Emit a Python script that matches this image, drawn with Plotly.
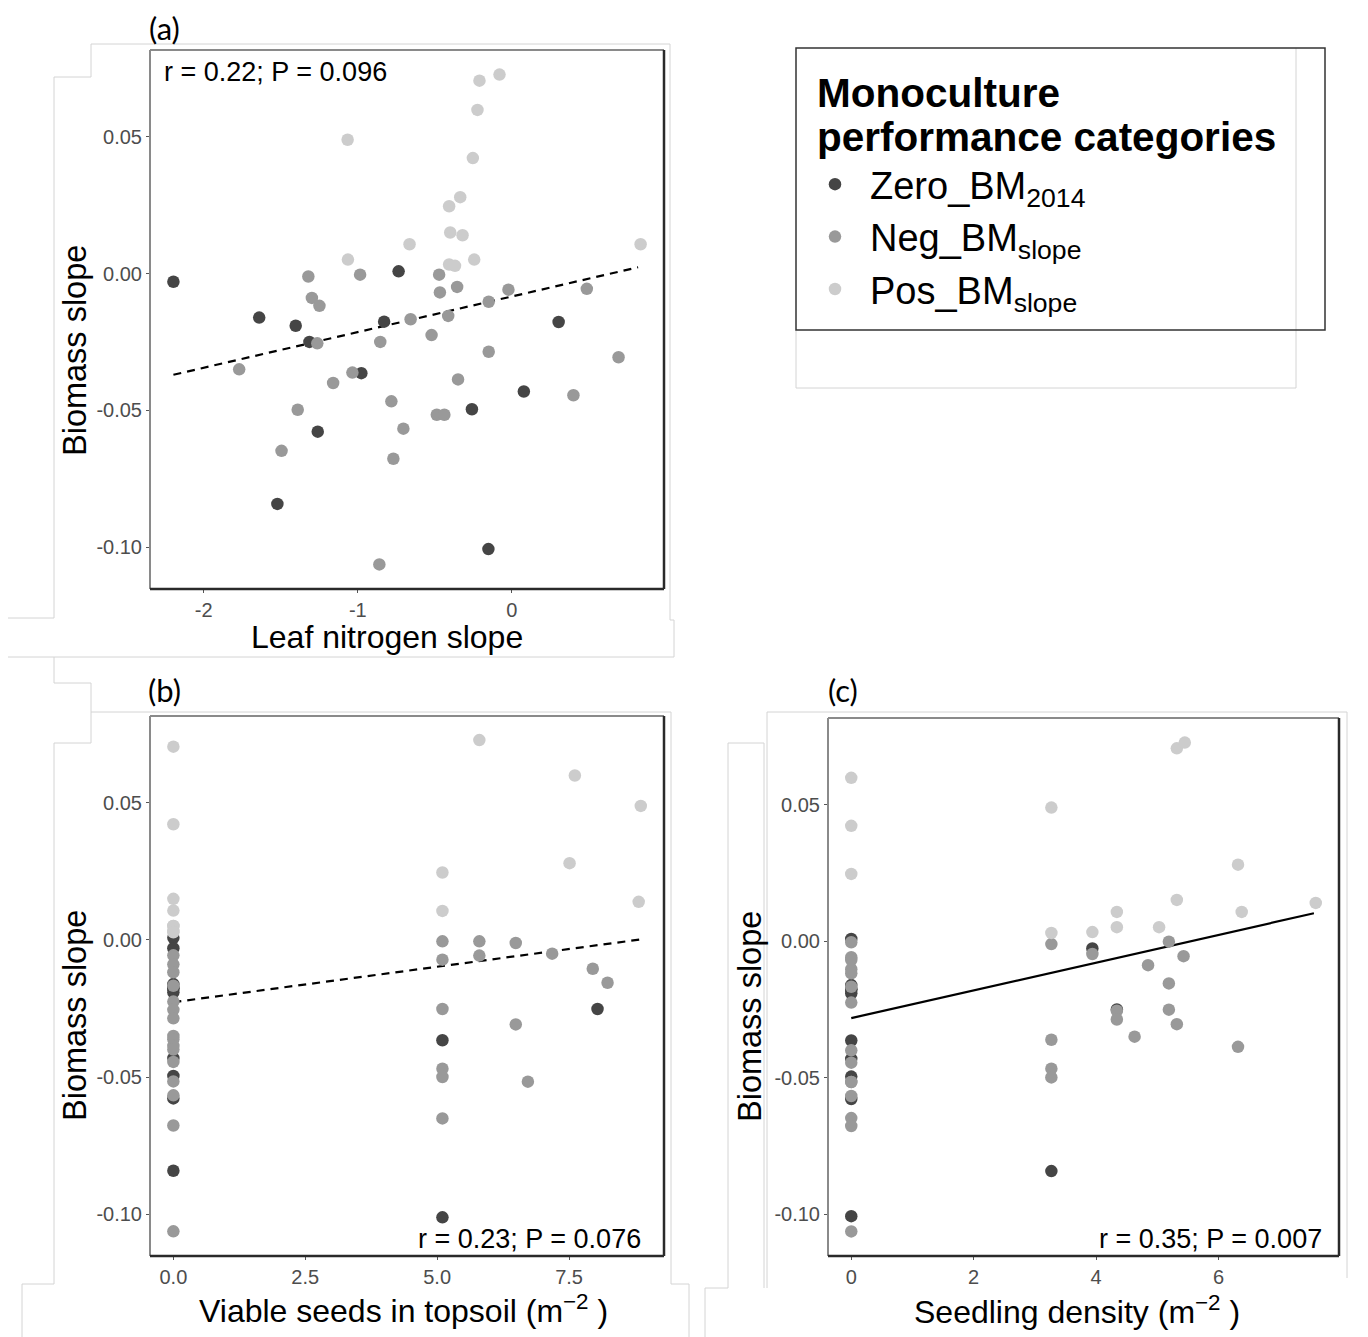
import plotly.graph_objects as go

W, H = 1368, 1337
OFF = 8  # default page margin of the browser body
FW, FH = W - OFF, H - OFF

# ---------------- data ----------------
categories = ["Zero_BM<sub>2014</sub>", "Neg_BM<sub>slope</sub>", "Pos_BM<sub>slope</sub>"]
cat_colors = ["#454545", "#999999", "#cccccc"]

# panel (a): leaf nitrogen slope vs biomass slope
a_zero_x = [-2.197, -0.735, -1.640, -1.403, -0.829, 0.304, -1.314, -0.977, 0.078, -0.259, -1.260, -1.522, -0.152]
a_zero_y = [-0.0030, 0.0008, -0.0161, -0.0191, -0.0176, -0.0177, -0.0250, -0.0364, -0.0431, -0.0496, -0.0578, -0.0842, -0.1007]
a_neg_x = [-1.321, -0.985, -0.472, -1.298, -1.249, -0.467, -0.355, -0.022, 0.487, -0.150, -0.657, -0.413, -0.521,
           -1.263, -0.854, -0.150, -1.770, -1.035, -1.160, -0.349, 0.693, 0.400, -0.782, -1.390, -0.487, -0.438,
           -0.704, -1.495, -0.769, -0.860]
a_neg_y = [-0.0011, -0.0004, -0.0004, -0.0089, -0.0118, -0.0069, -0.0049, -0.0059, -0.0056, -0.0103, -0.0167, -0.0155,
           -0.0225, -0.0255, -0.0250, -0.0286, -0.0350, -0.0362, -0.0400, -0.0387, -0.0306, -0.0445, -0.0467, -0.0498,
           -0.0516, -0.0516, -0.0567, -0.0648, -0.0677, -0.1063]
a_pos_x = [-0.210, -0.080, -0.223, -1.066, -0.253, -0.335, -0.407, -0.400, -0.320, 0.836, -0.664, -1.064, -0.244, -0.407, -0.369]
a_pos_y = [0.0705, 0.0727, 0.0598, 0.0489, 0.0422, 0.0279, 0.0246, 0.0150, 0.0140, 0.0107, 0.0107, 0.0051, 0.0051, 0.0033, 0.0028]
a_fit_x = [-2.197, 0.820]
a_fit_y = [-0.0370, 0.0023]

# panel (b): viable seeds in topsoil vs biomass slope
b_zero_x = [0, 0, 0, 0, 0, 0, 0, 0, 0, 0, 5.1, 8.04, 5.1]
b_zero_y = [0.0008, -0.0030, -0.0161, -0.0176, -0.0177, -0.0191, -0.0431, -0.0496, -0.0578, -0.0842, -0.0366, -0.0252, -0.1012]
b_neg_x = [0] * 16 + [5.1, 5.8, 6.49, 5.1, 5.8, 7.18, 7.95, 8.23, 5.1, 6.49, 5.1, 5.1, 6.72, 5.1]
b_neg_y = [-0.0056, -0.0089, -0.0118, -0.0167, -0.0225, -0.0255, -0.0286, -0.0350, -0.0362, -0.0387, -0.0400, -0.0445,
           -0.0516, -0.0567, -0.0677, -0.1063,
           -0.0005, -0.0005, -0.0011, -0.0072, -0.0057, -0.0050, -0.0105, -0.0156, -0.0252, -0.0308, -0.0470, -0.0500,
           -0.0517, -0.0651]
b_pos_x = [0] * 8 + [5.8, 7.61, 8.86, 7.51, 5.1, 8.82, 5.1]
b_pos_y = [0.0705, 0.0422, 0.0150, 0.0107, 0.0051, 0.0051, 0.0033, 0.0028,
           0.0729, 0.0600, 0.0489, 0.0280, 0.0246, 0.0139, 0.0106]
b_fit_x = [0.0, 8.86]
b_fit_y = [-0.0227, 0.0002]

# panel (c): seedling density vs biomass slope
c_zero_x = [0] * 10 + [3.94, 3.27, 4.34]
c_zero_y = [0.0008, -0.0161, -0.0176, -0.0177, -0.0191, -0.0364, -0.0431, -0.0496, -0.0578, -0.1007,
            -0.0027, -0.0842, -0.0250]
c_neg_x = [0] * 15 + [3.27, 3.94, 5.19, 5.43, 4.85, 5.19, 4.34, 4.34, 5.19, 5.32, 4.63, 6.32, 3.27, 3.27, 3.27]
c_neg_y = [-0.0004, -0.0059, -0.0069, -0.0103, -0.0118, -0.0167, -0.0225, -0.0400, -0.0445, -0.0516, -0.0516,
           -0.0567, -0.0648, -0.0677, -0.1063,
           -0.0011, -0.0047, -0.0002, -0.0055, -0.0088, -0.0155, -0.0255, -0.0287, -0.0251, -0.0304, -0.0350,
           -0.0387, -0.0361, -0.0467, -0.0499]
c_pos_x = [0, 0, 0, 5.32, 5.45, 3.27, 6.32, 5.32, 7.59, 4.34, 6.38, 4.34, 5.03, 3.27, 3.94]
c_pos_y = [0.0598, 0.0422, 0.0246, 0.0706, 0.0727, 0.0489, 0.0280, 0.0151, 0.0140, 0.0107, 0.0107, 0.0051,
           0.0051, 0.0030, 0.0033]
c_fit_x = [0.0, 7.56]
c_fit_y = [-0.0282, 0.0102]

y_tickvals = [0.05, 0.00, -0.05, -0.10]
y_ticktext = ["0.05", "0.00", "-0.05", "-0.10"]
a_tickvals = [-2, -1, 0]
a_ticktext = ["-2", "-1", "0"]
b_tickvals = [0.0, 2.5, 5.0, 7.5]
b_ticktext = ["0.0", "2.5", "5.0", "7.5"]
c_tickvals = [0, 2, 4, 6]
c_ticktext = ["0", "2", "4", "6"]

stats = ["r = 0.22; P = 0.096", "r = 0.23; P = 0.076", "r = 0.35; P = 0.007"]
panel_labels = ["(a)", "(b)", "(c)"]
x_titles = ["Leaf nitrogen slope", "Viable seeds in topsoil (m<sup>−2</sup> )", "Seedling density (m<sup>−2</sup> )"]
y_title = "Biomass slope"
legend_title = ["Monoculture", "performance categories"]

# ---------------- figure ----------------
def X(px):
    return (px - OFF) / FW


def Y(py):
    return 1 - (py - OFF) / FH


FONT = "Liberation Sans, Arial, sans-serif"
fig = go.Figure()

panels = [
    ("x", "y", [a_zero_x, a_neg_x, a_pos_x], [a_zero_y, a_neg_y, a_pos_y], a_fit_x, a_fit_y, "8px,6px"),
    ("x2", "y2", [b_zero_x, b_neg_x, b_pos_x], [b_zero_y, b_neg_y, b_pos_y], b_fit_x, b_fit_y, "8px,6px"),
    ("x3", "y3", [c_zero_x, c_neg_x, c_pos_x], [c_zero_y, c_neg_y, c_pos_y], c_fit_x, c_fit_y, "solid"),
]

for pi, (xa, ya, xs, ys, fx, fy, dash) in enumerate(panels):
    fig.add_trace(go.Scatter(x=fx, y=fy, mode="lines", xaxis=xa, yaxis=ya,
                             line=dict(color="black", width=2.2, dash=dash),
                             showlegend=False, hoverinfo="skip"))
    for ci in range(3):
        fig.add_trace(go.Scatter(
            x=xs[ci], y=ys[ci], mode="markers", xaxis=xa, yaxis=ya,
            marker=dict(color=cat_colors[ci], size=12.5, line=dict(width=0)),
            name=categories[ci], legendgroup=categories[ci], showlegend=(pi == 0),
        ))

# axes geometry (pixels of the reference)
geo = {
    "a": dict(x=(150, 664), y=(50, 589), xr=[-2.349, 0.988]),
    "b": dict(x=(150, 664), y=(716, 1256), xr=[-0.443, 9.30]),
    "c": dict(x=(828, 1339), y=(718, 1256), xr=[-0.38, 7.97]),
}
yr = [-0.1153, 0.0817]
tickfont = dict(family=FONT, size=20, color="#4d4d4d")
axis_common = dict(showgrid=False, zeroline=False, showline=False, ticks="outside", ticklen=3,
                   tickwidth=1, tickcolor="#555555", tickfont=tickfont)

keys = ["a", "b", "c"]
xt = [(a_tickvals, a_ticktext), (b_tickvals, b_ticktext), (c_tickvals, c_ticktext)]
for i, k in enumerate(keys):
    g = geo[k]
    sfx = "" if i == 0 else str(i + 1)
    fig.update_layout(**{
        "xaxis" + sfx: dict(domain=[X(g["x"][0]), X(g["x"][1])], range=g["xr"], anchor="y" + sfx,
                            tickvals=xt[i][0], ticktext=xt[i][1], **axis_common),
        "yaxis" + sfx: dict(domain=[Y(g["y"][1]), Y(g["y"][0])], range=yr, anchor="x" + sfx,
                            tickvals=y_tickvals, ticktext=y_ticktext, **axis_common),
    })

shapes = []
# panel boxes: lighter top/left, darker bottom/right
for i, k in enumerate(keys):
    sfx = "" if i == 0 else str(i + 1)
    xr_, yr_ = "x" + sfx + " domain", "y" + sfx + " domain"
    shapes += [
        dict(type="line", xref=xr_, yref=yr_, x0=0, x1=0, y0=0, y1=1, line=dict(color="#8a8a8a", width=2), layer="above"),
        dict(type="line", xref=xr_, yref=yr_, x0=0, x1=1, y0=1, y1=1, line=dict(color="#8a8a8a", width=2), layer="above"),
        dict(type="line", xref=xr_, yref=yr_, x0=1, x1=1, y0=0, y1=1, line=dict(color="#2a2a2a", width=2.5), layer="above"),
        dict(type="line", xref=xr_, yref=yr_, x0=0, x1=1, y0=0, y1=0, line=dict(color="#2a2a2a", width=2.5), layer="above"),
    ]

# faint frame lines from the composite (reference pixels)
frame_segments = [
    (91, 44, 670, 44), (91, 44, 91, 77), (54, 77, 91, 77), (54, 77, 54, 618), (8, 618, 54, 618),
    (670, 44, 670, 620), (670, 620, 674, 620), (674, 620, 674, 657), (8, 657, 674, 657),
    (54, 657, 54, 683), (54, 683, 91, 683), (91, 683, 91, 743), (91, 712, 671, 712), (671, 712, 671, 1284),
    (54, 743, 91, 743), (54, 743, 54, 1284), (22, 1284, 54, 1284), (22, 1284, 22, 1337),
    (671, 1284, 689, 1284), (689, 1284, 689, 1337),
    (767, 712, 1347, 712), (767, 712, 767, 1288), (728, 743, 764, 743), (728, 743, 728, 1288),
    (764, 743, 764, 1288), (705, 1288, 728, 1288), (705, 1288, 705, 1337), (1347, 712, 1347, 1278),
    (1296, 48, 1296, 388), (796, 388, 1296, 388), (796, 330, 796, 388),
]
for (x0, y0, x1, y1) in frame_segments:
    shapes.append(dict(type="line", xref="paper", yref="paper", x0=X(x0), y0=Y(y0), x1=X(x1), y1=Y(y1),
                       line=dict(color="#d4d4d4", width=1), layer="below"))

# legend box
shapes.append(dict(type="rect", xref="paper", yref="paper", x0=X(796), x1=X(1325), y0=Y(330), y1=Y(48),
                   line=dict(color="#333333", width=1.5), fillcolor="rgba(0,0,0,0)"))

annotations = []
# stats
annotations.append(dict(text=stats[0], xref="paper", yref="paper", x=X(162), y=Y(72), xanchor="left", yanchor="middle",
                        showarrow=False, font=dict(family=FONT, size=27, color="black")))
annotations.append(dict(text=stats[1], xref="paper", yref="paper", x=X(643), y=Y(1239), xanchor="right", yanchor="middle",
                        showarrow=False, font=dict(family=FONT, size=27, color="black")))
annotations.append(dict(text=stats[2], xref="paper", yref="paper", x=X(1324), y=Y(1239), xanchor="right", yanchor="middle",
                        showarrow=False, font=dict(family=FONT, size=27, color="black")))
# panel labels
for lab, (px, py) in zip(panel_labels, [(164, 28), (164, 690), (843, 690)]):
    annotations.append(dict(text=lab, xref="paper", yref="paper", x=X(px), y=Y(py), xanchor="center", yanchor="middle",
                            showarrow=False, borderpad=0,
                            font=dict(family="Lato, Open Sans, sans-serif", size=31, color="black")))
# axis titles
for t, (px, py) in zip(x_titles, [(387, 637), (403, 1309), (1077, 1310)]):
    annotations.append(dict(text=t, xref="paper", yref="paper", x=X(px), y=Y(py), xanchor="center", yanchor="middle",
                            showarrow=False, font=dict(family=FONT, size=32, color="black")))
for (px, py) in [(75, 351), (75, 1016), (750, 1016)]:
    annotations.append(dict(text=y_title, xref="paper", yref="paper", x=X(px), y=Y(py), xanchor="center",
                            yanchor="middle", textangle=-90, showarrow=False,
                            font=dict(family=FONT, size=32.5, color="black")))
# legend title
for t, py in zip(legend_title, [93, 137]):
    annotations.append(dict(text="<b>" + t + "</b>", xref="paper", yref="paper", x=X(815), y=Y(py), xanchor="left",
                            yanchor="middle", showarrow=False, font=dict(family=FONT, size=40.5, color="black")))

fig.update_layout(
    width=FW, height=FH, margin=dict(l=0, r=0, t=0, b=0),
    paper_bgcolor="white", plot_bgcolor="white",
    shapes=shapes, annotations=annotations,
    showlegend=True,
    legend=dict(x=X(800), y=Y(153), xanchor="left", yanchor="top", bgcolor="rgba(0,0,0,0)", borderwidth=0,
                font=dict(family=FONT, size=38, color="black"), itemsizing="trace", itemwidth=60,
                tracegroupgap=0),
)

fig.write_html("out.html")
